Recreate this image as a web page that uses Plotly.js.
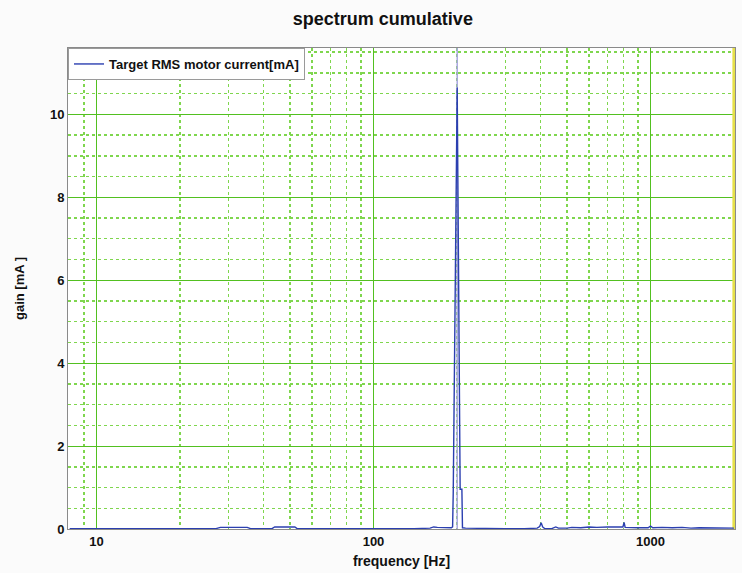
<!DOCTYPE html>
<html>
<head>
<meta charset="utf-8">
<script src="https://cdn.plot.ly/plotly-3.0.1.min.js"></script>
<style>html,body{margin:0;padding:0;background:#fbfbfb;}#chart{width:742px;height:573px;}</style>
</head>
<body>
<div id="chart"></div>
<script>
// Frequency (Hz) and gain (mA)
const freqHz = [8, 10, 15, 20, 27, 28, 35, 36, 43, 44, 52, 53, 60, 70, 80, 90, 95, 100, 120, 140, 160, 165, 170, 180, 188, 191, 193, 194, 200.5, 205.5, 208.5, 209.5, 215, 250, 300, 350, 390, 398, 403, 408, 415, 440, 455, 465, 500, 520, 560, 600, 640, 700, 760, 795, 803, 810, 900, 980, 1000, 1020, 1100, 1200, 1300, 1400, 1500, 1700, 1850, 2000];
const gainMA = [0.01, 0.01, 0.01, 0.01, 0.01, 0.04, 0.04, 0.01, 0.01, 0.05, 0.05, 0.01, 0.01, 0.01, 0.0, 0.0, 0.01, 0.0, 0.01, 0.01, 0.02, 0.05, 0.04, 0.03, 0.02, 0.03, 0.05, 0.85, 10.65, 0.96, 0.96, 0.03, 0.02, 0.01, 0.01, 0.01, 0.02, 0.06, 0.15, 0.05, 0.01, 0.01, 0.05, 0.02, 0.02, 0.04, 0.03, 0.05, 0.04, 0.05, 0.04, 0.05, 0.16, 0.04, 0.03, 0.03, 0.07, 0.03, 0.04, 0.03, 0.04, 0.02, 0.03, 0.02, 0.03, 0.02];
// Cursor at the peak and the end-of-band marker
const cursorFreq = [200.5, 200.5];
const cursorGain = [0, 11.6];
const bandEndFreq = [2000, 2000];
const bandEndGain = [0, 11.6];
// Axis ticks
const xMajorTicks = [10, 100, 1000];
const xMajorLabels = ['10', '100', '1000'];
const xMinorTicks = [9, 20, 30, 40, 50, 60, 70, 80, 90, 200, 300, 400, 500, 600, 700, 800, 900, 2000];

const font = 'Arial, "Liberation Sans", sans-serif';

const traces = [
  {x: cursorFreq, y: cursorGain, mode: 'lines', line: {color: '#a9a6e0', width: 1.5}, showlegend: false, hoverinfo: 'skip'},
  {x: bandEndFreq, y: bandEndGain, mode: 'lines', line: {color: '#e6e04a', width: 3}, showlegend: false, hoverinfo: 'skip'},
  {x: freqHz, y: gainMA, mode: 'lines', name: 'Target RMS motor current[mA]', line: {color: '#2b3fb0', width: 1.4}}
];

const layout = {
  width: 742, height: 573,
  paper_bgcolor: '#fbfbfb', plot_bgcolor: '#ffffff',
  margin: {l: 68, r: 7, t: 48, b: 44},
  title: {text: 'spectrum cumulative', font: {family: font, size: 18, color: '#111', weight: 'bold'}, x: 0.516, xanchor: 'center', y: 0.968, yanchor: 'middle'},
  showlegend: true,
  legend: {x: 0, y: 1, xanchor: 'left', yanchor: 'top', bgcolor: '#ffffff', bordercolor: '#9a9a9a', borderwidth: 1,
           font: {family: font, size: 13, color: '#111', weight: 'bold'}, itemwidth: 30, tracegroupgap: 0},
  xaxis: {
    type: 'log', range: [0.897112, 3.305054],
    tickmode: 'array', tickvals: xMajorTicks, ticktext: xMajorLabels,
    ticks: '', showgrid: true, gridcolor: '#52c020', gridwidth: 1,
    zeroline: false, showline: true, linecolor: '#8a8a8a', linewidth: 1, mirror: true,
    tickfont: {family: font, size: 13, color: '#111', weight: 'bold'},
    minor: {tickmode: 'array', tickvals: xMinorTicks, showgrid: true, gridcolor: '#7fd64e', griddash: 'dot', gridwidth: 1.5, ticks: ''},
    title: {text: 'frequency [Hz]', font: {family: font, size: 14, color: '#111', weight: 'bold'}, standoff: 8}
  },
  yaxis: {
    range: [0, 11.6], tickmode: 'linear', tick0: 0, dtick: 2,
    ticks: '', showgrid: true, gridcolor: '#52c020', gridwidth: 1,
    zeroline: false, showline: true, linecolor: '#8a8a8a', linewidth: 1, mirror: true,
    tickfont: {family: font, size: 13, color: '#111', weight: 'bold'},
    minor: {dtick: 0.5, tick0: 0, showgrid: true, gridcolor: '#7fd64e', griddash: 'dot', gridwidth: 1.5, ticks: ''},
    title: {text: 'gain [mA ]', font: {family: font, size: 13, color: '#111', weight: 'bold'}, standoff: 22}
  }
};

Plotly.newPlot('chart', traces, layout, {displayModeBar: false, staticPlot: true});
</script>
</body>
</html>
